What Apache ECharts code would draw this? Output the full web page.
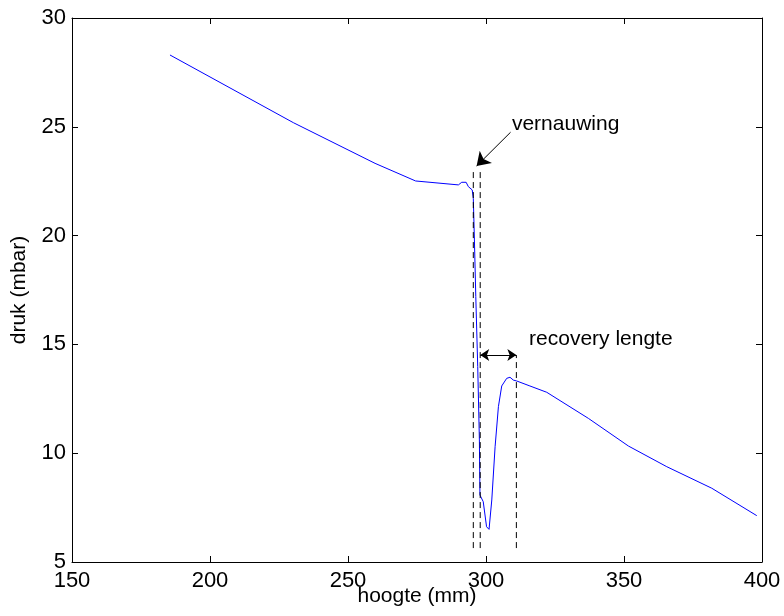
<!DOCTYPE html>
<html>
<head>
<meta charset="utf-8">
<script src="https://cdn.jsdelivr.net/npm/echarts@6/dist/echarts.min.js"></script>
<style>html,body{margin:0;padding:0;background:#fff;}#chart{width:784px;height:616px;}</style>
</head>
<body>
<div id="chart"></div>
<script>
// Pressure curve (hoogte in mm, druk in mbar)
var hoogte = [185.5, 230.2, 259.8, 274.5, 290.0, 291.2, 292.8, 293.6, 295.0, 295.4, 295.8, 296.3, 297.0, 297.6, 297.8, 298.2, 299.0, 300.2, 301.1, 302.1, 303.3, 304.5, 305.7, 307.5, 308.7, 309.9, 311.1, 315.9, 322.0, 337.1, 351.6, 365.5, 381.8, 398.1];
var druk   = [28.3, 25.19, 23.32, 22.51, 22.33, 22.45, 22.45, 22.25, 22.1, 21.71, 19.8, 17.2, 13.98, 10.61, 8.08, 8.0, 7.77, 6.62, 6.5, 7.85, 10.3, 12.14, 13.09, 13.44, 13.49, 13.36, 13.32, 13.09, 12.8, 11.6, 10.33, 9.38, 8.39, 7.13];

// dashed marker lines (x positions, lower and upper y)
var dashX = [295.4, 297.9, 311.0];
var dashYBottom = [5.64, 5.64, 5.64];
var dashYTop = [23.06, 23.06, 14.51];

// annotations
var annoText = ['vernauwing', 'recovery lengte'];
var annoX = [309.4, 315.6];
var annoY = [25.14, 15.24];

// arrows: [startX, startY, endX, endY]
var arrowVern = [308.9, 24.75, 296.6, 23.2];
var arrowRecovery = [297.9, 14.51, 311.0, 14.51];

var xTicks = {min: 150, max: 400, interval: 50};
var yTicks = {min: 5, max: 30, interval: 5};

var FONT = '"Liberation Sans", Arial, Helvetica, sans-serif';
var FS = 21;
var TFS = 22;

var chart = echarts.init(document.getElementById('chart'), null, {renderer: 'canvas'});

var curve = hoogte.map(function (x, i) { return [x, druk[i]]; });
var dashSeries = dashX.map(function (x, i) {
  return {
    type: 'line', data: [[x, dashYBottom[i]], [x, dashYTop[i]]],
    showSymbol: false, silent: true, animation: false,
    lineStyle: {color: '#000', width: 1, type: [6, 4]}
  };
});

function axisCommon(extra) {
  var base = {
    type: 'value',
    nameMoveOverlap: false,
    axisLine: {show: true, onZero: false, lineStyle: {color: '#000', width: 1}},
    axisTick: {show: true, inside: true, length: 6, lineStyle: {color: '#000'}},
    splitLine: {show: false},
    axisLabel: {color: '#000', fontSize: TFS, fontFamily: FONT}
  };
  for (var k in extra) base[k] = extra[k];
  return base;
}

var option = {
  animation: false,
  backgroundColor: '#fff',
  grid: {left: 72, right: 22, top: 18, bottom: 54, containLabel: false, outerBoundsMode: 'none'},
  xAxis: [
    axisCommon({min: xTicks.min, max: xTicks.max, interval: xTicks.interval, position: 'bottom',
      name: 'hoogte (mm)', nameLocation: 'middle', nameGap: 24,
      nameTextStyle: {color: '#000', fontSize: FS, fontFamily: FONT},
      axisLabel: {color: '#000', fontSize: TFS, fontFamily: FONT, margin: 8}}),
    axisCommon({min: xTicks.min, max: xTicks.max, interval: xTicks.interval, position: 'top',
      axisLabel: {show: false}})
  ],
  yAxis: [
    axisCommon({min: yTicks.min, max: yTicks.max, interval: yTicks.interval, position: 'left',
      name: 'druk (mbar)', nameLocation: 'middle', nameGap: 42,
      nameTextStyle: {color: '#000', fontSize: FS, fontFamily: FONT},
      axisLabel: {color: '#000', fontSize: TFS, fontFamily: FONT, margin: 6}}),
    axisCommon({min: yTicks.min, max: yTicks.max, interval: yTicks.interval, position: 'right',
      axisLabel: {show: false}})
  ],
  series: [
    {
      type: 'line', data: curve, showSymbol: false, silent: true,
      lineStyle: {color: '#0000ff', width: 1}
    },
    {
      type: 'lines', coordinateSystem: 'cartesian2d', silent: true,
      symbol: ['none', 'arrow'], symbolSize: 13,
      lineStyle: {color: '#000', width: 1, opacity: 1},
      data: [{coords: [[arrowVern[0], arrowVern[1]], [arrowVern[2], arrowVern[3]]]}]
    },
    {
      type: 'lines', coordinateSystem: 'cartesian2d', silent: true,
      symbol: ['arrow', 'arrow'], symbolSize: 9,
      lineStyle: {color: '#000', width: 1, opacity: 1},
      data: [{coords: [[arrowRecovery[0], arrowRecovery[1]], [arrowRecovery[2], arrowRecovery[3]]]}]
    },
    {
      type: 'scatter', silent: true, symbolSize: 0,
      itemStyle: {opacity: 1, color: '#000'},
      data: annoX.map(function (x, i) { return {value: [x, annoY[i]], name: annoText[i]}; }),
      label: {show: true, position: 'right', distance: 0, formatter: '{b}', opacity: 1,
        color: '#000', fontSize: FS, fontFamily: FONT, align: 'left', verticalAlign: 'middle'}
    }
  ].concat(dashSeries)
};
chart.setOption(option);
</script>
</body>
</html>
